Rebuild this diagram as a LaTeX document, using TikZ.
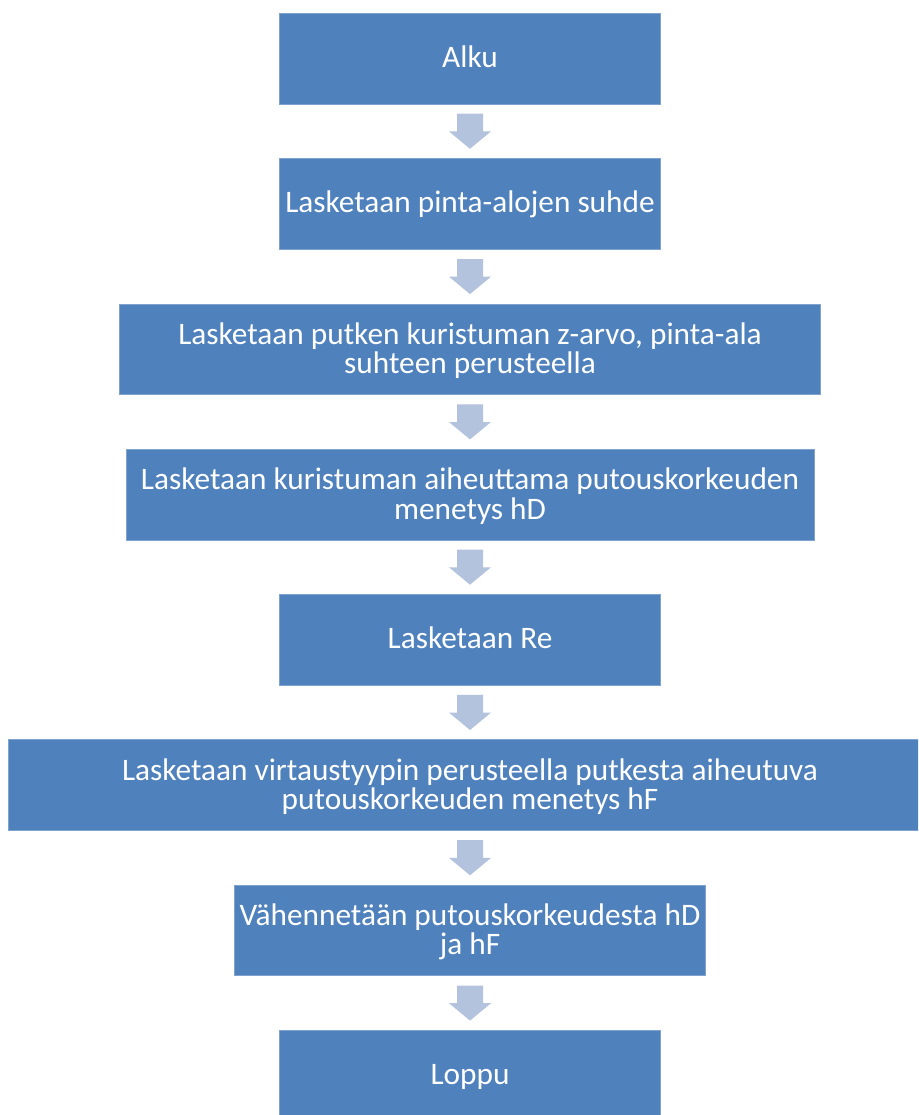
\documentclass[tikz,border=0pt]{standalone}
\usepackage{fontspec}
\setmainfont{Carlito}
\usetikzlibrary{calc}
\definecolor{boxblue}{HTML}{4F81BD}
\definecolor{boxline}{HTML}{7FA2CE}
\definecolor{arrowfill}{HTML}{B3C2DD}
\newcommand{\blockarrow}[2]{%
  \fill[blockarr] ($(#1.south)+(-13,9.3)$) -- ($(#1.south)+(13,9.3)$) -- ($(#1.south)+(13,27)$) -- ($(#1.south)+(21,27)$) -- ($(#2.north)+(0,-9.4)$) -- ($(#1.south)+(-21,27)$) -- ($(#1.south)+(-13,27)$) -- cycle;}
\begin{document}
\begin{tikzpicture}[x=1pt,y=-1pt,
  box/.style={rectangle, fill=boxblue, draw=boxline, line width=0.8pt, inner sep=0pt, minimum height=90.7pt},
  txt/.style={anchor=base, text=white, font=\fontsize{31.3}{29}\selectfont, inner sep=0pt},
  blockarr/.style={fill=arrowfill}]
\useasboundingbox (0,0) rectangle (918,1115);
\clip (0,0) rectangle (918,1115);
\node[box, minimum width=381.4pt] (b1) at (470,58.65) {};
\node[box, minimum width=381.4pt] (b2) at (470,203.95) {};
\node[box, minimum width=701.4pt] (b3) at (470,349.25) {};
\node[box, minimum width=688pt] (b4) at (470,494.55) {};
\node[box, minimum width=381.4pt] (b5) at (470,639.85) {};
\node[box, minimum width=922.6pt] (b6) at (470,785.15) {};
\node[box, minimum width=471.4pt] (b7) at (470,930.45) {};
\node[box, minimum width=381.4pt] (b8) at (470,1075.75) {};
\node[txt] (t1) at ($(b1.center)+(0,9)$) {Alku};
\node[txt] (t2) at ($(b2.center)+(0,9)$) {Lasketaan pinta-alojen suhde};
\node[txt] (t3a) at ($(b3.center)+(0,-5)$) {Lasketaan putken kuristuman z-arvo, pinta-ala};
\node[txt] (t3b) at ($(b3.center)+(0,24.5)$) {suhteen perusteella};
\node[txt] (t4a) at ($(b4.center)+(0,-5)$) {Lasketaan kuristuman aiheuttama putouskorkeuden};
\node[txt] (t4b) at ($(b4.center)+(0,24.5)$) {menetys hD};
\node[txt] (t5) at ($(b5.center)+(0,9)$) {Lasketaan Re};
\node[txt] (t6a) at ($(b6.center)+(0,-5)$) {Lasketaan virtaustyypin perusteella putkesta aiheutuva};
\node[txt] (t6b) at ($(b6.center)+(0,24.5)$) {putouskorkeuden menetys hF};
\node[txt] (t7a) at ($(b7.center)+(0,-5)$) {Vähennetään putouskorkeudesta hD};
\node[txt] (t7b) at ($(b7.center)+(0,24.5)$) {ja hF};
\node[txt] (t8) at ($(b8.center)+(0,9)$) {Loppu};
\blockarrow{b1}{b2}
\blockarrow{b2}{b3}
\blockarrow{b3}{b4}
\blockarrow{b4}{b5}
\blockarrow{b5}{b6}
\blockarrow{b6}{b7}
\blockarrow{b7}{b8}
\end{tikzpicture}
\end{document}
